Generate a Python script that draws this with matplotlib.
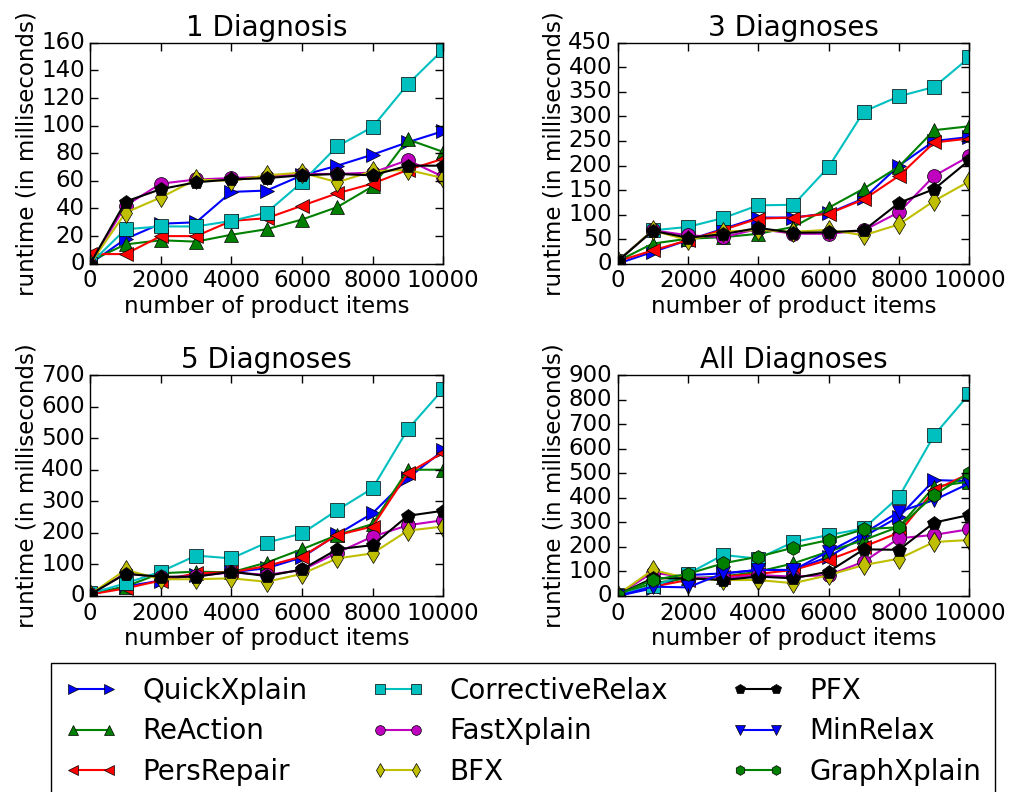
import matplotlib
matplotlib.use('Agg')
import matplotlib.pyplot as plt

plt.style.use('classic')
plt.rcParams['figure.facecolor'] = 'white'
plt.rcParams['savefig.facecolor'] = 'white'
plt.rcParams['font.family'] = ['DejaVu Sans']

x = [0, 1000, 2000, 3000, 4000, 5000, 6000, 7000, 8000, 9000, 10000]

# 1 Diagnosis
d1 = {
    'QuickXplain':     [0, 18, 29, 30, 52, 53, 64, 71, 79, 88, 96],
    'ReAction':        [2, 14, 17, 16, 21, 25, 32, 41, 56, 90, 81],
    'PersRepair':      [7, 7, 20, 20, 31, 33, 42, 51, 58, 68, 76],
    'CorrectiveRelax': [0, 25, 27, 27, 31, 37, 59, 85, 99, 130, 155],
    'FastXplain':      [0, 42, 58, 61, 62, 63, 65, 65, 66, 75, 63],
    'BFX':             [0, 37, 48, 61, 60, 64, 66, 59, 67, 68, 62],
    'PFX':             [0, 45, 54, 59, 61, 62, 64, 65, 64, 71, 71],
}
# 3 Diagnoses
d3 = {
    'QuickXplain':     [0, 24, 48, 71, 94, 94, 103, 133, 200, 250, 258],
    'ReAction':        [5, 41, 51, 54, 61, 75, 114, 153, 198, 272, 280],
    'PersRepair':      [5, 27, 48, 69, 92, 94, 102, 131, 179, 247, 255],
    'CorrectiveRelax': [5, 68, 75, 93, 119, 120, 197, 310, 341, 360, 420],
    'FastXplain':      [5, 68, 58, 54, 71, 61, 61, 68, 105, 179, 219],
    'BFX':             [5, 68, 48, 65, 69, 65, 69, 58, 80, 128, 168],
    'PFX':             [5, 67, 53, 60, 73, 63, 64, 68, 124, 152, 211],
}
# 5 Diagnoses
d5 = {
    'QuickXplain':     [5, 30, 49, 67, 75, 88, 122, 195, 262, 373, 461],
    'ReAction':        [5, 30, 72, 77, 75, 106, 148, 193, 228, 400, 400],
    'PersRepair':      [5, 24, 49, 72, 75, 95, 125, 193, 220, 389, 454],
    'CorrectiveRelax': [8, 40, 77, 128, 119, 169, 198, 272, 341, 528, 655],
    'FastXplain':      [5, 72, 59, 63, 75, 67, 82, 137, 188, 224, 240],
    'BFX':             [5, 83, 53, 53, 56, 45, 70, 119, 135, 207, 220],
    'PFX':             [5, 70, 61, 61, 77, 63, 84, 148, 161, 254, 270],
}
# All Diagnoses
dall = {
    'QuickXplain':     [0, 31, 85, 92, 106, 106, 160, 242, 323, 472, 468],
    'ReAction':        [5, 52, 72, 79, 99, 133, 181, 228, 282, 445, 466],
    'PersRepair':      [5, 38, 65, 79, 90, 106, 147, 201, 258, 431, 499],
    'CorrectiveRelax': [5, 40, 90, 167, 152, 220, 248, 275, 404, 655, 823],
    'FastXplain':      [5, 95, 76, 72, 85, 79, 85, 140, 235, 249, 272],
    'BFX':             [5, 106, 72, 65, 65, 52, 85, 126, 152, 220, 228],
    'PFX':             [5, 72, 72, 65, 79, 72, 99, 190, 188, 299, 330],
    'MinRelax':        [0, 38, 35, 92, 106, 106, 181, 255, 343, 391, 459],
    'GraphXplain':     [5, 65, 90, 133, 160, 197, 228, 272, 280, 411, 502],
}

styles = {
    'QuickXplain':     ('b', '>'),
    'ReAction':        ('g', '^'),
    'PersRepair':      ('r', '<'),
    'CorrectiveRelax': ('c', 's'),
    'FastXplain':      ('m', 'o'),
    'BFX':             ('y', 'd'),
    'PFX':             ('k', 'p'),
    'MinRelax':        ('b', 'v'),
    'GraphXplain':     ('g', 'h'),
}

panels = [
    ('1 Diagnosis', d1, 160, 20, [0.089, 0.667, 0.348, 0.279]),
    ('3 Diagnoses', d3, 450, 50, [0.609, 0.667, 0.347, 0.279]),
    ('5 Diagnoses', d5, 700, 100, [0.089, 0.2475, 0.348, 0.279]),
    ('All Diagnoses', dall, 900, 100, [0.609, 0.2475, 0.347, 0.279]),
]

fig = plt.figure(figsize=(10.14, 7.92), dpi=100)
handles = {}
for title, data, ymax, ystep, pos in panels:
    ax = fig.add_axes(pos)
    for name, vals in data.items():
        col, mk = styles[name]
        line, = ax.plot(x, vals, color=col, marker=mk, markersize=10,
                        markeredgecolor='k', linewidth=1.5, label=name)
        handles[name] = line
    ax.set_xlim(0, 10000)
    ax.set_ylim(0, ymax)
    ax.set_xticks(range(0, 10001, 2000))
    ax.set_yticks(range(0, ymax + 1, ystep))
    ax.tick_params(labelsize=16.5, length=6, width=1, pad=4)
    ax.set_title(title, fontsize=20)
    ax.set_xlabel('number of product items', fontsize=16.5, labelpad=2)
    ax.set_ylabel('runtime (in milliseconds)', fontsize=16.5, labelpad=2)

order = ['QuickXplain', 'ReAction', 'PersRepair',
         'CorrectiveRelax', 'FastXplain', 'BFX',
         'PFX', 'MinRelax', 'GraphXplain']
fig.legend([handles[n] for n in order], order, loc='upper left',
           bbox_to_anchor=(0.0503, 0.163), borderaxespad=0, ncol=3,
           fontsize=20, numpoints=2, markerscale=0.7, handlelength=1.9,
           handletextpad=0.9, columnspacing=2.3, labelspacing=0.45,
           borderpad=0.5)

fig.savefig('out.png', dpi=100)
